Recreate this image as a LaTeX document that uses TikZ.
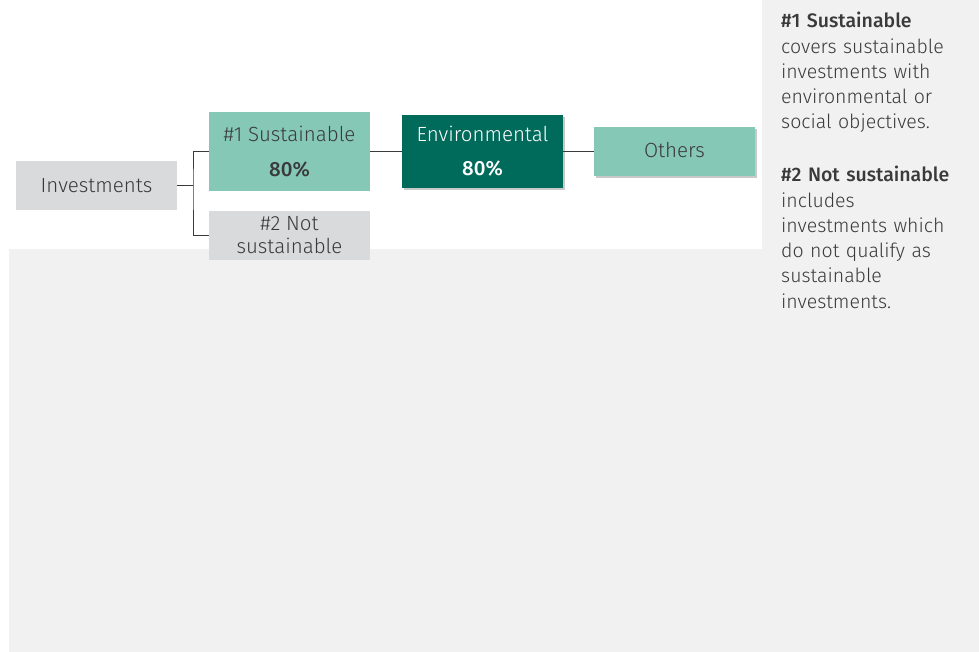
\documentclass[tikz,border=0pt]{standalone}
\usepackage{fontspec}
\setmainfont{Fira Sans}[UprightFont={* Light}, BoldFont={* Medium}]
\usetikzlibrary{shadows}
\definecolor{mint}{HTML}{86C8B6}
\definecolor{teal}{HTML}{006B5B}
\definecolor{boxgrey}{HTML}{D9DADB}
\definecolor{panel}{HTML}{F1F1F1}
\definecolor{txt}{HTML}{3A3A3A}
\begin{document}
\begin{tikzpicture}[x=1pt,y=-1pt,
  box/.style={rectangle, inner sep=0pt, minimum width=161pt, align=center,
    font=\fontsize{20.5}{24}\selectfont, text=txt},
  greybox/.style={box, fill=boxgrey},
  mintbox/.style={box, fill=mint},
  tealbox/.style={box, fill=teal, text=white},
  shad/.style={drop shadow={shadow xshift=1.5pt, shadow yshift=-2.5pt, opacity=0.35, fill=black!60}},
  conn/.style={draw=txt, line width=1pt},
  desc/.style={anchor=north west, inner sep=0pt, align=left, text width=197pt,
    font=\fontsize{19.5}{25.3}\selectfont, text=txt}]
\useasboundingbox (0,0) rectangle (979,652);
\fill[white] (0,0) rectangle (979,652);
\fill[panel] (9,249) rectangle (979,652);
\fill[panel] (762,0) rectangle (979,249);

\node[greybox, minimum height=49pt] (inv) at (96.5,185.5) {Investments};
\node[mintbox, minimum height=79pt] (s1) at (289.5,151.5) {\raisebox{2pt}{\#1 Sustainable}\\[9pt]\textbf{80\%}};
\node[greybox, minimum height=49pt] (s2) at (289.5,235.5) {\#2 Not\\[-1pt]sustainable};
\node[tealbox, shad, minimum height=73pt] (env) at (482.5,151.5) {\raisebox{2pt}{Environmental}\\[8pt]\textbf{80\%}};
\node[mintbox, shad, minimum height=49pt] (oth) at (674.5,151.5) {\raisebox{3pt}{Others}};

\coordinate (fork) at (193,185.5);
\draw[conn] (inv.east) -- (fork);
\draw[conn] (s1.west |- 0,152) -| (fork) |- (s2.west);
\draw[conn] (s1.east |- 0,152) -- (env.west |- 0,152);
\draw[conn] (env.east |- 0,152) -- (oth.west |- 0,152);

\node[desc] (d1) at (781,12) {\textbf{\#1 Sustainable}\\covers sustainable\\investments with\\environmental or\\social objectives.};
\node[desc] (d2) at (781,166) {\textbf{\#2 Not sustainable}\\includes\\investments which\\do not qualify as\\sustainable\\investments.};
\end{tikzpicture}
\end{document}
